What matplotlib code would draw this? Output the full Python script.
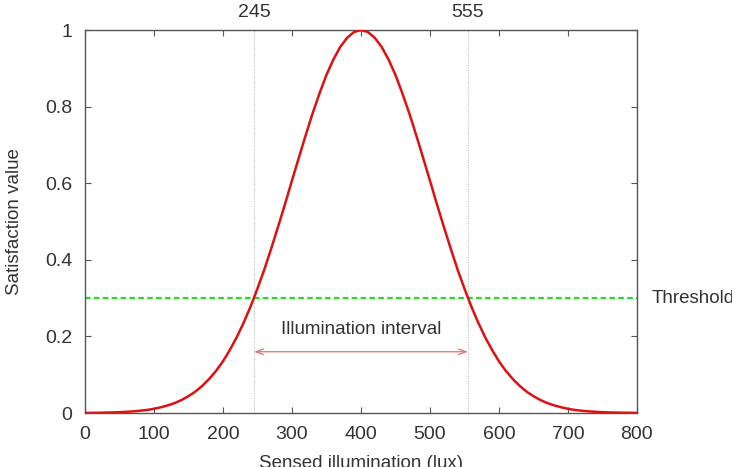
import matplotlib.pyplot as plt
import matplotlib.transforms as mtransforms

# sensed illumination (lux) and satisfaction
lux = [0, 10, 20, 30, 40, 50, 60, 70, 80, 90, 100, 110, 120, 130, 140, 150,
       160, 170, 180, 190, 200, 210, 220, 230, 240, 250, 260, 270, 280, 290,
       300, 310, 320, 330, 340, 350, 360, 370, 380, 390, 400, 410, 420, 430,
       440, 450, 460, 470, 480, 490, 500, 510, 520, 530, 540, 550, 560, 570,
       580, 590, 600, 610, 620, 630, 640, 650, 660, 670, 680, 690, 700, 710,
       720, 730, 740, 750, 760, 770, 780, 790, 800]
satisfaction = [0.0003, 0.0005, 0.0007, 0.0011, 0.0015, 0.0022, 0.0031, 0.0043,
                0.006, 0.008, 0.011, 0.015, 0.020, 0.026, 0.034, 0.044, 0.056,
                0.071, 0.089, 0.110, 0.135, 0.165, 0.198, 0.236, 0.278, 0.325,
                0.375, 0.430, 0.487, 0.546, 0.607, 0.667, 0.726, 0.783, 0.835,
                0.883, 0.923, 0.956, 0.980, 0.995, 1.0, 0.995, 0.980, 0.956,
                0.923, 0.883, 0.835, 0.783, 0.726, 0.667, 0.607, 0.546, 0.487,
                0.430, 0.375, 0.325, 0.278, 0.236, 0.198, 0.165, 0.135, 0.110,
                0.089, 0.071, 0.056, 0.044, 0.034, 0.026, 0.020, 0.015, 0.011,
                0.008, 0.006, 0.0043, 0.0031, 0.0022, 0.0015, 0.0011, 0.0007,
                0.0005, 0.0003]

threshold = 0.3
interval = [245, 555]
x_ticks = [0, 100, 200, 300, 400, 500, 600, 700, 800]
y_ticks = [0, 0.2, 0.4, 0.6, 0.8, 1]
y_ticklabels = ["0", "0.2", "0.4", "0.6", "0.8", "1"]

plt.rcParams['font.family'] = ['Liberation Sans', 'DejaVu Sans']
text_col = "#333333"
axis_col = "#555555"
fs = 13.5

fig = plt.figure(figsize=(7.32, 4.67), dpi=100)
ax = fig.add_axes([0.1161, 0.1156, 0.754, 0.820])

# interval markers
for xv in interval:
  ax.axvline(xv, color="#b0b0b0", linestyle=(0, (1, 1.5)), linewidth=0.7, zorder=1)

ax.axhline(threshold, color="#22dd22", linestyle=(0, (2.5, 1.5)), linewidth=1.6, zorder=2)
ax.plot(lux, satisfaction, color="#dd1111", linewidth=1.8, zorder=3)

ax.annotate("", xy=(interval[0], 0.16), xytext=(interval[1], 0.16),
            arrowprops=dict(arrowstyle="<->,head_length=0.55,head_width=0.2",
                            color="#e07070", lw=0.9, shrinkA=0, shrinkB=0))
ax.text(sum(interval) / 2, 0.218, "Illumination interval", ha="center", va="center",
        fontsize=fs, color=text_col)

top = mtransforms.blended_transform_factory(ax.transData, ax.transAxes)
for xv in interval:
  ax.text(xv, 1.025, str(xv), transform=top, ha="center", va="bottom",
          fontsize=14, color=text_col)

# label runs off the right edge, as in the original figure
right = mtransforms.blended_transform_factory(ax.transAxes, ax.transData)
ax.text(1.027, threshold, "Threshold", transform=right, ha="left", va="center",
        fontsize=fs, color=text_col, clip_on=False)

ax.set_xlim(0, 800)
ax.set_ylim(0, 1)
ax.set_xticks(x_ticks)
ax.set_yticks(y_ticks)
ax.set_yticklabels(y_ticklabels)
ax.tick_params(direction="in", top=True, right=True, length=4, width=0.8,
               color=axis_col, labelsize=14, labelcolor=text_col)
ax.tick_params(axis="x", pad=9)
ax.tick_params(axis="y", pad=9)
for spine in ax.spines.values():
  spine.set_color(axis_col)
  spine.set_linewidth(1.0)

ax.set_xlabel("Sensed illumination (lux)", fontsize=fs, color=text_col, labelpad=9)
ax.set_ylabel("Satisfaction value", fontsize=fs, color=text_col, labelpad=16)

fig.savefig("out.png", dpi=100)
